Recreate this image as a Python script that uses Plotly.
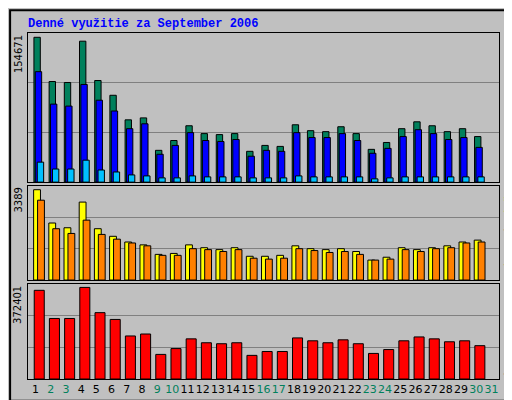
import plotly.graph_objects as go
from plotly import subplots

days = list(range(1, 32))
weekend = [2, 3, 9, 10, 16, 17, 23, 24, 30, 31]

hits = [154671, 107450, 106400, 150500, 108500, 92750, 66500, 68600, 33950, 44450,
        60200, 51800, 50750, 51800, 32900, 39200, 38150, 61250, 54950, 53900,
        59150, 51800, 35000, 42350, 57050, 64400, 60200, 53900, 57050, 48650]
files = [117950, 83300, 81200, 104300, 87500, 75950, 57050, 62300, 29750, 39200,
         52850, 44450, 43400, 45500, 27650, 33950, 32900, 52850, 47600, 47600,
         51800, 44450, 30800, 36050, 48650, 56000, 51800, 45500, 47600, 37100]
pages = [21350, 14000, 14000, 23450, 12950, 10850, 7700, 6650, 4550, 4550,
         6650, 5600, 5600, 5600, 4550, 4550, 4550, 6650, 5600, 5600,
         5600, 5600, 3500, 4550, 5600, 5600, 5600, 5600, 5600, 5600]
visits = [3389, 2140, 1962, 2925, 1926, 1641, 1427, 1320, 963, 999,
          1320, 1213, 1141, 1213, 892, 892, 927, 1284, 1177, 1141,
          1177, 1070, 749, 856, 1213, 1141, 1213, 1284, 1427, 1498]
sites = [2996, 1926, 1748, 2247, 1712, 1534, 1391, 1284, 927, 927,
         1177, 1141, 1070, 1141, 820, 785, 820, 1177, 1106, 1034,
         1070, 963, 749, 785, 1141, 1070, 1177, 1213, 1391, 1427]
kbytes = [360584, 246092, 246092, 372401, 269780, 242144, 175028, 182924, 100016, 123704,
          163184, 147392, 143444, 147392, 96068, 111860, 111860, 167132, 155288, 147392,
          159236, 143444, 103964, 119756, 155288, 171080, 163184, 151340, 155288, 135548]

x = days[:30]
line = dict(color='black', width=1)

fig = subplots.make_subplots(rows=3, cols=1, shared_xaxes=True, vertical_spacing=0.01)

fig.add_trace(go.Bar(x=x, y=hits, marker=dict(color='#00805C', line=line),
                     width=0.42, offset=-0.11), 1, 1)
fig.add_trace(go.Bar(x=x, y=files, marker=dict(color='#0000FF', line=line),
                     width=0.42, offset=-0.02), 1, 1)
fig.add_trace(go.Bar(x=x, y=pages, marker=dict(color='#00C0FF', line=line),
                     width=0.42, offset=0.11), 1, 1)
fig.add_trace(go.Bar(x=x, y=visits, marker=dict(color='#FFFF00', line=line),
                     width=0.45, offset=-0.13), 2, 1)
fig.add_trace(go.Bar(x=x, y=sites, marker=dict(color='#FF8000', line=line),
                     width=0.45, offset=0.13), 2, 1)
fig.add_trace(go.Bar(x=x, y=kbytes, marker=dict(color='#FF0000', line=line),
                     width=0.66, offset=-0.09), 3, 1)

fig.update_layout(barmode='overlay', showlegend=False, width=512, height=400,
                  paper_bgcolor='#C0C0C0', plot_bgcolor='#C0C0C0',
                  margin=dict(l=20, r=21, t=25, b=22),
                  font=dict(family='DejaVu Sans', size=11, color='black'))

domains = [[0.569, 1.0], [0.286, 0.558], [0.0, 0.275]]
ranges = [159250, 3531, 386900]
for i in range(3):
    r = ranges[i]
    fig.update_yaxes(row=i + 1, col=1, domain=domains[i], range=[0, r],
                     tickvals=[r / 3, 2 * r / 3], showticklabels=False,
                     gridcolor='#808080', gridwidth=1, zeroline=False,
                     showline=True, linecolor='black', mirror=True, ticks='')
    fig.update_xaxes(row=i + 1, col=1, range=[0.5, 31.5], showgrid=False,
                     showline=True, linecolor='black', mirror=True, ticks='')

ticktext = ['<span style="color:#00805C">%d</span>' % d if d in weekend else str(d)
            for d in days]
fig.update_xaxes(row=3, col=1, tickvals=days, ticktext=ticktext, tickangle=0,
                 showticklabels=True, tickfont=dict(size=11))

fig.add_annotation(xref='paper', yref='paper', x=-0.005, y=1.0, xanchor='left',
                   yanchor='bottom', showarrow=False,
                   text='<b>Denné využitie za September 2006</b>',
                   font=dict(family='Liberation Mono', size=12, color='#0000FF'))

for val, yy in [('154671', 1.0), ('3389', 0.558), ('372401', 0.275)]:
    fig.add_annotation(xref='paper', yref='paper', x=-0.021, y=yy, xanchor='center',
                       yanchor='top', showarrow=False, textangle=-90, text=val,
                       font=dict(size=10))

right = [
    ('<span style="color:#00C0FF">strán</span> / <span style="color:#0000FF">súborov</span>'
     ' / <span style="color:#00805C">zásahov</span>', 0.5),
    ('<span style="color:#FF8000">miest</span> / <span style="color:#FFFF00">návštev</span>', 0.295),
    ('<span style="color:#FF0000">kBytov</span>', 0.005),
]
for txt, yy in right:
    fig.add_annotation(xref='paper', yref='paper', x=1.022, y=yy, xanchor='center',
                       yanchor='bottom', showarrow=False, textangle=-90, text=txt,
                       font=dict(family='Liberation Mono', size=11, color='black'))

fig.add_shape(type='rect', xref='paper', yref='paper', x0=-0.038, y0=-0.063,
              x1=1.042, y1=1.066, line=dict(color='black', width=2))

fig.write_html("out.html")
